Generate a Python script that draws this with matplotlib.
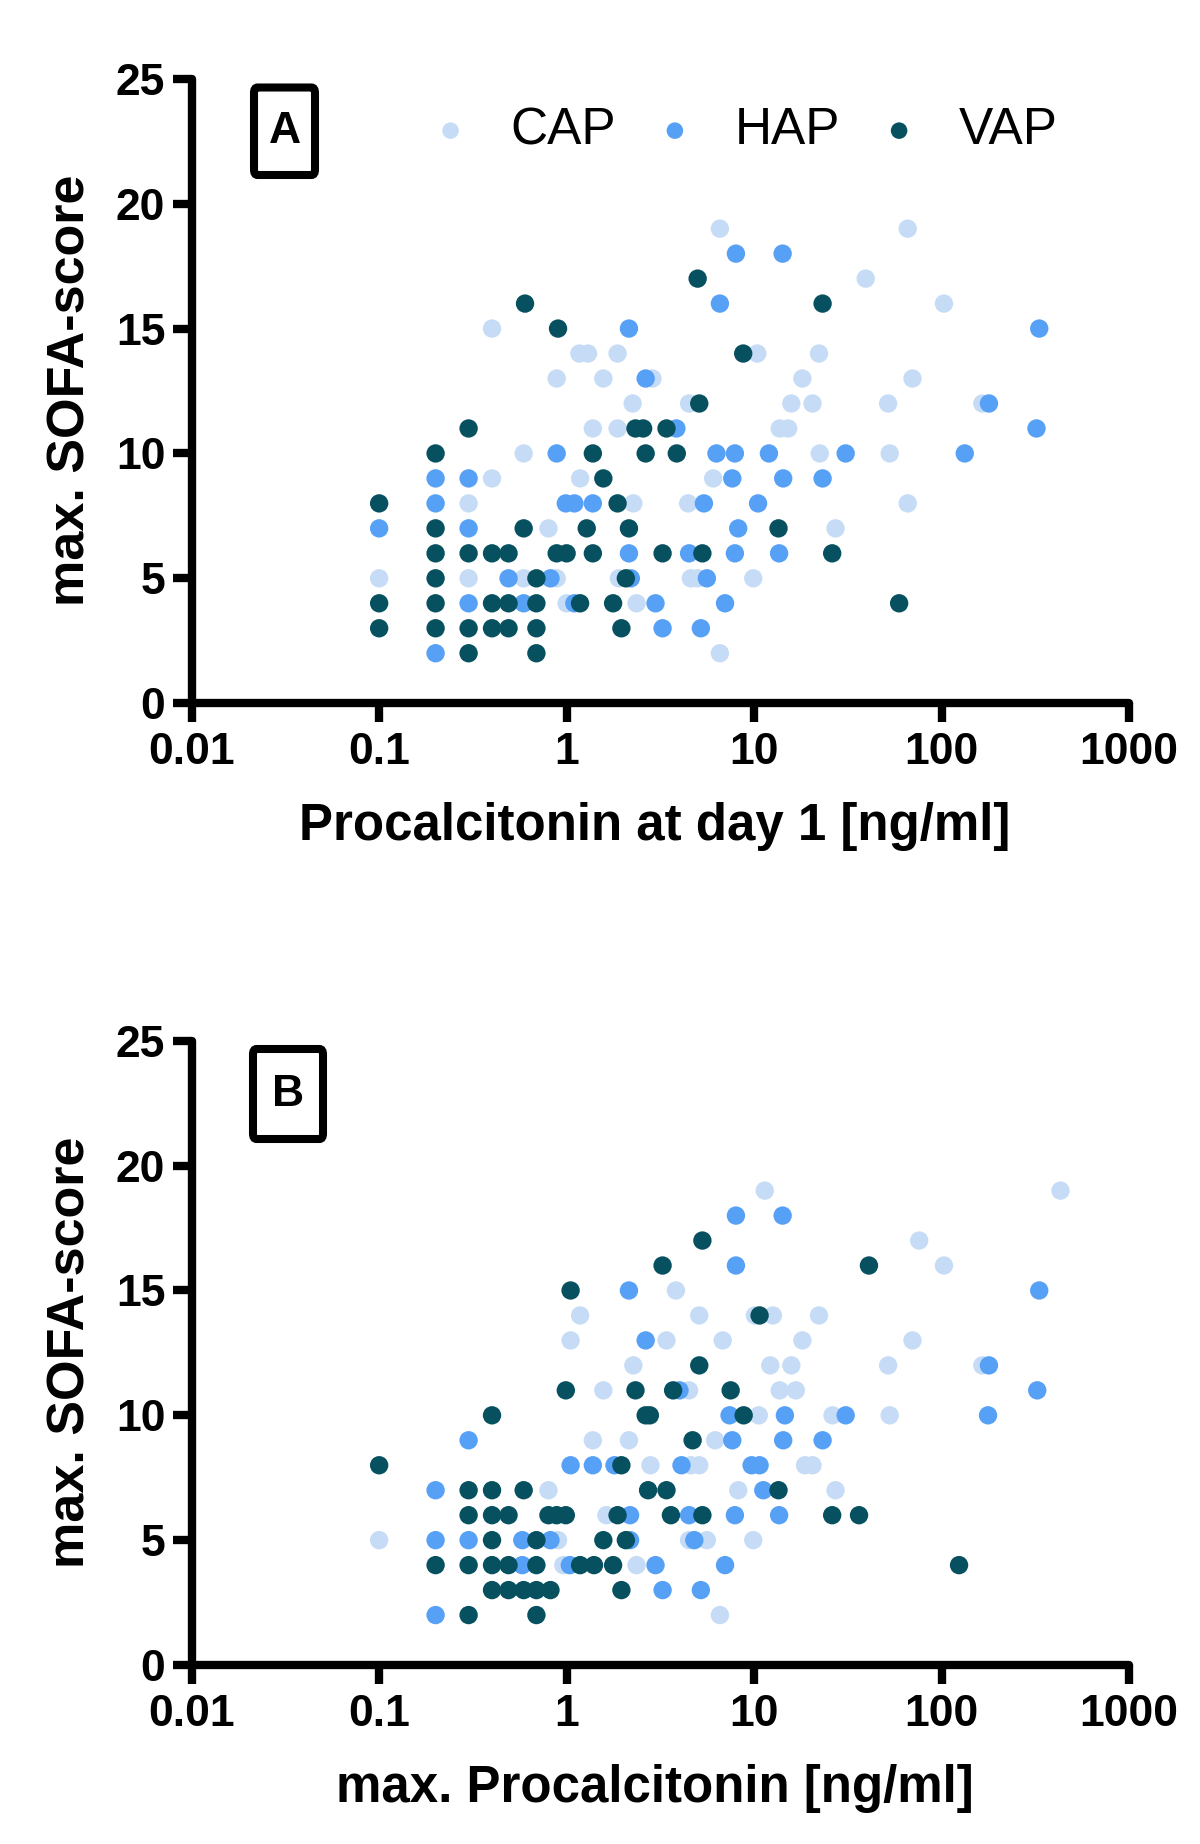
import matplotlib
matplotlib.use("Agg")
import matplotlib.pyplot as plt
from matplotlib.patches import FancyBboxPatch

plt.rcParams['font.family'] = ['Liberation Sans', 'DejaVu Sans']

# ---------------- data ----------------
groups = ["CAP", "HAP", "VAP"]
colors = {"CAP": "#C6DCF6", "HAP": "#56A0F6", "VAP": "#06505F"}

xticks = [0.01, 0.1, 1, 10, 100, 1000]
xtick_labels = ["0.01", "0.1", "1", "10", "100", "1000"]
yticks = [0, 5, 10, 15, 20, 25]

# Panel A: PCT at day 1 vs max SOFA
cap_a_pct = [6.57, 66, 39.4, 103, 0.4, 1.17, 1.3, 1.87, 10.4, 22.2, 0.885, 1.57, 2.87, 18.1, 70,
             2.25, 4.5, 15.8, 20.5, 51.9, 165, 1.38, 1.87, 13.7, 15.2, 0.59, 22.4, 52.9, 0.4, 1.18,
             6.05, 0.3, 2.27, 4.45, 66, 0.8, 27.2, 0.1, 0.3, 0.59, 0.885, 1.9, 4.6, 5.0, 9.9, 1.0,
             2.36, 6.57]
cap_a_sofa = [19, 19, 17, 16, 15, 14, 14, 14, 14, 14, 13, 13, 13, 13, 13,
              12, 12, 12, 12, 12, 12, 11, 11, 11, 11, 10, 10, 10, 9, 9,
              9, 8, 8, 8, 8, 7, 7, 5, 5, 5, 5, 5, 5, 5, 5, 4,
              4, 2]
hap_a_pct = [8.0, 14.2, 6.57, 2.15, 332, 2.64, 179, 3.85, 321, 0.885, 6.3, 7.9, 12.0, 30.8, 133,
             0.2, 0.3, 7.65, 14.3, 23.2, 0.2, 0.99, 1.1, 1.38, 5.4, 10.5, 0.1, 0.3, 8.23, 2.15,
             4.5, 7.9, 13.6, 0.49, 0.82, 2.2, 5.6, 0.3, 0.59, 1.1, 2.98, 7.0, 3.25, 5.2, 0.2]
hap_a_sofa = [18, 18, 16, 15, 15, 13, 12, 11, 11, 10, 10, 10, 10, 10, 10,
              9, 9, 9, 9, 9, 8, 8, 8, 8, 8, 8, 7, 7, 7, 6,
              6, 6, 6, 5, 5, 5, 5, 4, 4, 4, 4, 4, 3, 3, 2]
vap_a_pct = [5.0, 0.6, 23.2, 0.9, 8.75, 5.1, 0.3, 2.33, 2.56, 3.41, 0.2, 1.38, 2.64, 3.87, 1.57,
             0.1, 1.87, 0.2, 0.59, 1.28, 2.15, 13.5, 0.2, 0.3, 0.4, 0.49, 0.885, 1.0, 1.38, 3.25,
             5.3, 26.1, 0.2, 0.69, 2.07, 0.1, 0.2, 0.4, 0.49, 0.69, 1.18, 1.77, 59.4, 0.1, 0.2,
             0.3, 0.4, 0.49, 0.69, 1.96, 0.3, 0.69]
vap_a_sofa = [17, 16, 16, 15, 14, 12, 11, 11, 11, 11, 10, 10, 10, 10, 9,
              8, 8, 7, 7, 7, 7, 7, 6, 6, 6, 6, 6, 6, 6, 6,
              6, 6, 5, 5, 5, 4, 4, 4, 4, 4, 4, 4, 4, 3, 3,
              3, 3, 3, 3, 3, 2, 2]

# Panel B: max PCT vs max SOFA
cap_b_pct = [11.4, 431, 76, 103, 3.83, 1.18, 5.1, 10.1, 12.6, 22.2, 1.05, 3.41, 6.8, 18.1, 70,
             2.27, 12.2, 15.8, 51.9, 165, 1.57, 4.5, 13.7, 16.7, 10.6, 26.2, 52.9, 1.38, 2.15, 6.2,
             2.8, 4.6, 5.1, 18.7, 20.5, 0.8, 8.23, 27.2, 1.63, 0.1, 0.9, 4.5, 5.6, 9.9, 0.96,
             2.36, 6.57]
cap_b_sofa = [19, 19, 17, 16, 15, 14, 14, 14, 14, 14, 13, 13, 13, 13, 13,
              12, 12, 12, 12, 12, 11, 11, 11, 11, 10, 10, 10, 9, 9, 9,
              8, 8, 8, 8, 8, 7, 7, 7, 6, 5, 5, 5, 5, 5, 4,
              4, 2]
hap_b_pct = [8.0, 14.2, 8.0, 2.15, 332, 2.64, 179, 4.0, 324, 7.4, 14.6, 30.8, 177, 0.3, 7.65,
             14.3, 23.2, 1.05, 1.38, 1.8, 4.1, 9.7, 10.7, 0.2, 11.2, 2.18, 4.5, 7.9, 13.6, 0.2,
             0.3, 0.58, 0.82, 2.18, 4.8, 0.58, 1.04, 2.98, 7.0, 3.25, 5.2, 0.2]
hap_b_sofa = [18, 18, 16, 15, 15, 13, 12, 11, 11, 10, 10, 10, 10, 9, 9,
              9, 9, 8, 8, 8, 8, 8, 8, 7, 7, 6, 6, 6, 6, 5,
              5, 5, 5, 5, 5, 4, 4, 4, 4, 3, 3, 2]
vap_b_pct = [5.3, 3.25, 41, 1.05, 10.7, 5.1, 0.99, 2.33, 3.7, 7.5, 0.4, 2.64, 2.78, 8.8, 4.7,
             0.1, 1.96, 0.3, 0.4, 0.59, 2.72, 3.41, 13.5, 0.3, 0.4, 0.49, 0.8, 0.885, 0.99, 1.87,
             3.6, 5.3, 26.1, 36.3, 0.4, 0.69, 1.57, 2.07, 0.2, 0.3, 0.4, 0.49, 0.69, 1.18, 1.4,
             1.77, 124, 0.4, 0.49, 0.59, 0.69, 0.82, 1.96, 0.3, 0.69]
vap_b_sofa = [17, 16, 16, 15, 14, 12, 11, 11, 11, 11, 10, 10, 10, 10, 9,
              8, 8, 7, 7, 7, 7, 7, 7, 6, 6, 6, 6, 6, 6, 6,
              6, 6, 6, 6, 5, 5, 5, 5, 4, 4, 4, 4, 4, 4, 4,
              4, 4, 3, 3, 3, 3, 3, 3, 2, 2]

panels = [
    {"label": "A", "xlabel": "Procalcitonin at day 1 [ng/ml]",
     "data": {"CAP": (cap_a_pct, cap_a_sofa), "HAP": (hap_a_pct, hap_a_sofa),
              "VAP": (vap_a_pct, vap_a_sofa)}},
    {"label": "B", "xlabel": "max. Procalcitonin [ng/ml]",
     "data": {"CAP": (cap_b_pct, cap_b_sofa), "HAP": (hap_b_pct, hap_b_sofa),
              "VAP": (vap_b_pct, vap_b_sofa)}},
]

# ---------------- figure ----------------
W, H = 1200, 1844
fig = plt.figure(figsize=(W / 100, H / 100), dpi=100)

ax_rects = [
    [191.7 / W, 1 - 703.2 / H, (1129 - 191.7) / W, (703.2 - 78.8) / H],
    [191.7 / W, 1 - 1665 / H, (1129 - 191.7) / W, (1665 - 1040.8) / H],
]
box_rects = [
    (254, 87.5, 315, 175),
    (253, 1049, 323, 1139),
]

for i, panel in enumerate(panels):
    ax = fig.add_axes(ax_rects[i])
    for g in groups:
        xs, ys = panel["data"][g]
        ax.scatter(xs, ys, s=175, color=colors[g], edgecolors="none", label=g,
                   zorder=3, clip_on=False)
    ax.set_xscale("log")
    ax.set_xlim(0.01, 1000)
    ax.set_ylim(0, 25)
    ax.set_xticks(xticks)
    ax.set_xticklabels(xtick_labels)
    ax.xaxis.set_minor_locator(matplotlib.ticker.NullLocator())
    ax.set_yticks(yticks)
    for side in ["top", "right"]:
        ax.spines[side].set_visible(False)
    for side in ["left", "bottom"]:
        ax.spines[side].set_linewidth(6)
        ax.spines[side].set_capstyle("round")
    ax.tick_params(axis="both", which="major", length=14, width=6, direction="out",
                   labelsize=32, pad=5)
    ax.tick_params(axis="x", pad=7)
    for lab in ax.get_xticklabels() + ax.get_yticklabels():
        lab.set_fontweight("bold")
    for t in ax.xaxis.get_major_ticks() + ax.yaxis.get_major_ticks():
        t.tick1line.set_solid_capstyle("round")

    ax.set_xlabel(panel["xlabel"], fontsize=36.7, fontweight="bold", va="center")
    ax.xaxis.set_label_coords(0.4943, -0.198)
    ax.set_ylabel("max. SOFA-score", fontsize=37.5, fontweight="bold", va="center")
    ax.yaxis.set_label_coords(-0.1292, 0.501)

    # panel label box
    x0, y0, x1, y1 = box_rects[i]
    rect = FancyBboxPatch((x0 / W, 1 - y1 / H), (x1 - x0) / W, (y1 - y0) / H,
                          boxstyle="round,pad=0,rounding_size=0.003",
                          transform=fig.transFigure, fill=False, linewidth=5.8,
                          edgecolor="black")
    fig.add_artist(rect)
    fig.text((x0 + x1) / 2 / W, 1 - (y0 + y1) / 2 / H, panel["label"], fontsize=32,
             fontweight="bold", ha="center", va="center")

    if i == 0:
        ax.legend(loc="center left", bbox_to_anchor=((430 - 191.7) / 937.3, 0.917),
                  ncol=3, frameon=False, fontsize=37, markerscale=0.9,
                  handlelength=0.8, handletextpad=0.76, columnspacing=0.75,
                  borderpad=0, borderaxespad=0, scatterpoints=1)

fig.savefig("out.png", dpi=100, facecolor="white")
